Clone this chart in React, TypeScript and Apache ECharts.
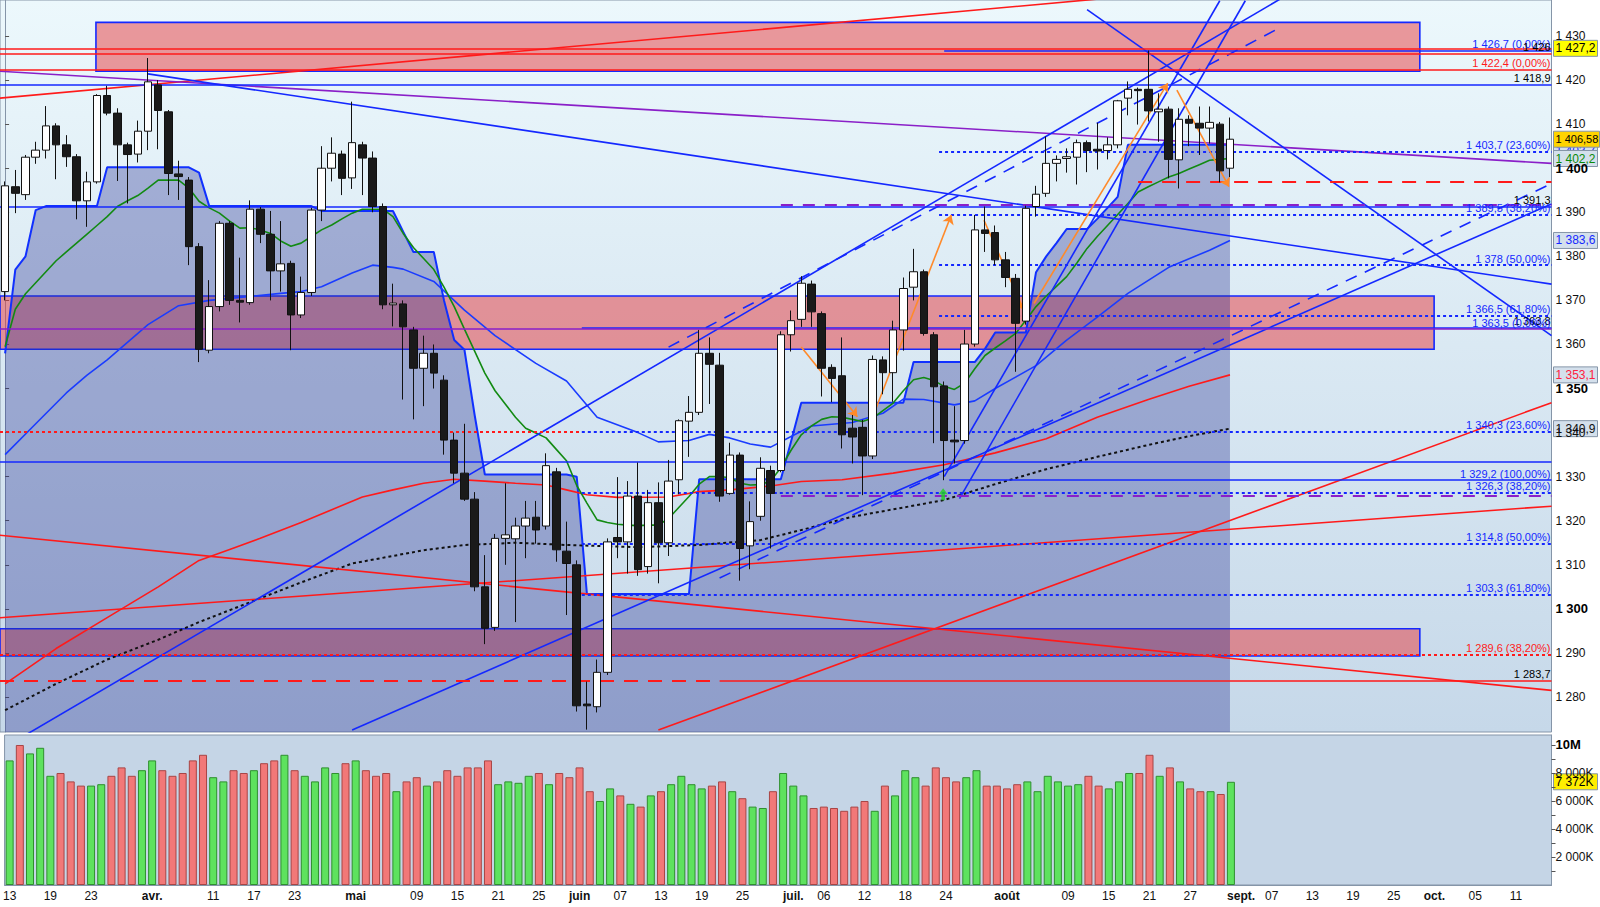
import { useEffect, useRef } from 'react';
import * as echarts from 'echarts';

// ---------- axis / categories ----------
const SLOTS = 152;
const X_MIN = -0.5;
const X_MAX = SLOTS - 0.5;
const PRICE_MIN = 1272.06;
const PRICE_MAX = 1438.17;
const VOL_MAX = 10714000;
const priceTicks = [1280, 1290, 1300, 1310, 1320, 1330, 1340, 1350, 1360, 1370, 1380, 1390, 1400, 1410, 1420, 1430];
const volTicks = [2000000, 4000000, 6000000, 8000000, 10000000];
const volMinorTicks = [1000000, 2000000, 3000000, 4000000, 5000000, 6000000, 7000000, 8000000, 9000000, 10000000];
const dateTickIdx = [0, 4, 8, 14, 20, 24, 28, 34, 40, 44, 48, 52, 56, 60, 64, 68, 72, 77, 80, 84, 88, 92, 98, 104, 108, 112, 116, 121, 124, 128, 132, 136, 140, 144, 148];
const dateTickLbl = ['13', '19', '23', 'avr.', '11', '17', '23', 'mai', '09', '15', '21', '25', 'juin', '07', '13', '19', '25', 'juil.', '06', '12', '18', '24', 'août', '09', '15', '21', '27', 'sept.', '07', '13', '19', '25', 'oct.', '05', '11'];
const monthLbl = ['avr.', 'mai', 'juin', 'juil.', 'août', 'sept.', 'oct.'];

// ---------- candles ----------
const opens = [
  1372.0, 1395.8, 1394.0, 1402.5, 1404.1, 1409.6, 1405.3, 1402.6, 1392.6, 1396.9,
  1416.5, 1412.5, 1405.3, 1403.2, 1408.4, 1418.9, 1412.8, 1398.7, 1397.3, 1382.2,
  1358.7, 1368.6, 1387.5, 1370.0, 1369.5, 1390.7, 1385.0, 1376.7, 1378.4, 1366.7,
  1371.8, 1390.5, 1400.0, 1403.2, 1397.8, 1405.3, 1402.3, 1391.3, 1369.0, 1369.2,
  1363.3, 1354.6, 1358.0, 1351.9, 1338.3, 1330.8, 1324.9, 1305.0, 1295.8, 1316.0,
  1315.9, 1318.8, 1320.8, 1318.8, 1331.1, 1313.1, 1310.0, 1278.4, 1277.8, 1285.6,
  1316.2, 1315.2, 1325.6, 1309.6, 1324.1, 1315.0, 1329.3, 1342.6, 1344.6, 1358.0,
  1355.3, 1326.2, 1334.9, 1314.3, 1321.0, 1331.4, 1331.4, 1362.2, 1365.7, 1373.7,
  1367.0, 1354.8, 1352.9, 1341.0, 1341.2, 1334.7, 1356.5, 1353.6, 1363.3, 1373.0,
  1376.5, 1362.2, 1350.6, 1338.3, 1338.2, 1360.1, 1386.0, 1385.4, 1379.2, 1375.0,
  1365.3, 1391.3, 1394.3, 1401.1, 1402.2, 1402.5, 1405.8, 1404.3, 1404.0, 1405.3,
  1415.9, 1417.9, 1417.9, 1412.8, 1413.4, 1401.9, 1411.1, 1410.2, 1409.1, 1410.0,
  1400.0,
];
const closes = [
  1396.0, 1394.3, 1402.5, 1404.1, 1409.6, 1405.3, 1402.6, 1392.6, 1396.9, 1416.5,
  1412.5, 1405.3, 1403.1, 1408.4, 1419.6, 1413.1, 1398.8, 1398.1, 1382.2, 1358.9,
  1368.6, 1387.5, 1370.0, 1369.6, 1390.7, 1385.0, 1376.7, 1378.3, 1366.7, 1371.8,
  1390.5, 1400.0, 1403.4, 1397.7, 1405.8, 1402.3, 1391.3, 1369.0, 1369.4, 1364.0,
  1354.6, 1358.0, 1353.5, 1338.3, 1330.8, 1324.9, 1305.0, 1295.6, 1316.0, 1316.8,
  1318.8, 1320.6, 1317.9, 1332.5, 1313.4, 1310.3, 1278.0, 1278.0, 1285.6, 1315.2,
  1315.2, 1325.6, 1308.9, 1324.1, 1315.0, 1329.0, 1342.7, 1344.6, 1358.0, 1355.5,
  1325.6, 1334.9, 1313.7, 1319.8, 1331.9, 1326.2, 1362.2, 1365.4, 1373.9, 1367.4,
  1354.6, 1352.3, 1339.5, 1339.0, 1334.7, 1356.6, 1353.6, 1363.3, 1372.7, 1376.5,
  1362.5, 1350.4, 1338.2, 1337.9, 1360.1, 1386.0, 1385.2, 1379.2, 1375.2, 1364.8,
  1390.9, 1394.1, 1401.1, 1402.0, 1402.6, 1405.8, 1404.0, 1403.9, 1405.3, 1415.3,
  1417.9, 1417.6, 1413.0, 1413.4, 1402.0, 1411.1, 1410.2, 1409.1, 1410.4, 1399.4,
  1406.58,
];
const lows = [
  1370.0, 1389.8, 1392.8, 1401.0, 1402.2, 1397.5, 1400.3, 1388.4, 1386.7, 1396.5,
  1412.0, 1397.1, 1392.0, 1401.3, 1404.1, 1404.3, 1393.9, 1392.8, 1378.0, 1356.0,
  1358.0, 1367.5, 1369.0, 1365.0, 1369.0, 1383.0, 1370.0, 1372.0, 1358.7, 1366.0,
  1371.0, 1388.0, 1397.0, 1393.9, 1395.3, 1393.9, 1390.0, 1368.0, 1364.1, 1347.5,
  1343.0, 1346.0, 1350.0, 1335.0, 1328.5, 1324.5, 1304.0, 1292.0, 1295.0, 1310.0,
  1297.0, 1311.5, 1314.8, 1318.0, 1310.7, 1298.6, 1276.7, 1272.6, 1276.5, 1285.0,
  1311.5, 1308.0, 1307.5, 1308.0, 1305.8, 1312.0, 1326.0, 1334.5, 1344.0, 1346.5,
  1324.3, 1325.9, 1306.4, 1309.0, 1320.0, 1313.7, 1331.0, 1358.4, 1364.0, 1364.0,
  1348.2, 1346.9, 1336.4, 1333.0, 1325.8, 1334.0, 1348.7, 1347.0, 1358.6, 1370.0,
  1362.0, 1337.6, 1329.2, 1333.0, 1337.5, 1359.5, 1381.0, 1378.0, 1373.0, 1353.8,
  1364.5, 1389.0, 1393.5, 1397.0, 1399.0, 1396.3, 1399.1, 1399.7, 1402.0, 1404.5,
  1412.0, 1409.9, 1410.6, 1406.0, 1397.7, 1395.4, 1405.0, 1403.0, 1405.6, 1396.8,
  1398.0,
];
const highs = [
  1397.0, 1399.6, 1403.0, 1406.0, 1414.1, 1410.2, 1407.5, 1403.2, 1399.2, 1416.8,
  1418.7, 1413.6, 1405.8, 1410.8, 1425.0, 1420.0, 1413.2, 1401.7, 1398.0, 1383.0,
  1374.6, 1388.0, 1388.0, 1379.7, 1392.7, 1391.2, 1390.3, 1388.0, 1379.0, 1375.4,
  1391.0, 1405.0, 1407.0, 1404.0, 1415.1, 1406.0, 1403.8, 1392.0, 1373.8, 1370.0,
  1364.0, 1362.0, 1360.0, 1353.0, 1340.0, 1342.0, 1326.5, 1312.2, 1317.0, 1328.5,
  1320.7, 1324.5, 1324.5, 1335.3, 1332.0, 1319.8, 1311.0, 1283.5, 1288.5, 1316.0,
  1329.9, 1329.0, 1333.2, 1327.0, 1328.7, 1333.8, 1343.0, 1348.3, 1363.3, 1361.6,
  1358.1, 1337.7, 1335.5, 1324.4, 1334.4, 1332.5, 1363.0, 1367.7, 1375.5, 1374.5,
  1367.5, 1355.5, 1361.6, 1344.0, 1342.9, 1357.5, 1357.3, 1365.4, 1375.2, 1381.7,
  1377.0, 1362.8, 1351.6, 1346.0, 1363.3, 1389.4, 1391.3, 1387.0, 1381.0, 1376.0,
  1391.5, 1396.0, 1407.2, 1402.9, 1404.5, 1406.5, 1406.3, 1410.3, 1407.0, 1415.5,
  1419.7, 1418.3, 1426.7, 1417.0, 1414.0, 1413.6, 1412.0, 1414.0, 1414.0, 1410.5,
  1411.5,
];
const volumes = [
  8900000, 10000000, 9400000, 9800000, 7800000, 8000000, 7400000, 7100000, 7100000, 7200000,
  7800000, 8400000, 7800000, 8200000, 8900000, 8200000, 7800000, 8000000, 8900000, 9300000,
  7700000, 7400000, 8200000, 8000000, 8200000, 8700000, 8900000, 9300000, 8200000, 7800000,
  7400000, 8400000, 8000000, 8700000, 8900000, 8200000, 7800000, 8000000, 6700000, 7400000,
  7700000, 7100000, 7400000, 8200000, 7800000, 8400000, 8400000, 8900000, 7200000, 7400000,
  7300000, 7800000, 8000000, 7200000, 8000000, 7700000, 8400000, 6700000, 6000000, 6900000,
  6400000, 5800000, 5600000, 6400000, 6700000, 7200000, 7800000, 7200000, 6900000, 7100000,
  7400000, 6700000, 6200000, 5600000, 5500000, 6700000, 8000000, 7100000, 6400000, 5500000,
  5600000, 5500000, 5300000, 5600000, 6000000, 5300000, 7100000, 6400000, 8200000, 7700000,
  7100000, 8400000, 7700000, 7400000, 7700000, 8200000, 7100000, 7100000, 6900000, 7200000,
  7400000, 6700000, 7800000, 7400000, 7100000, 7200000, 7800000, 7100000, 6900000, 7400000,
  8000000, 8000000, 9300000, 7800000, 8400000, 7400000, 6900000, 6700000, 6700000, 6500000,
  7372000,
];

// ---------- indicators ----------
const stopLine = [
  1358, 1377, 1380, 1390.5, 1391.4, 1391.4, 1391.4, 1391.4, 1391.4, 1391.4,
  1400.2, 1400.2, 1400.2, 1400.2, 1400.2, 1400.2, 1400.2, 1400.2, 1400.2, 1399,
  1391.4, 1391.4, 1391.4, 1391.4, 1391.4, 1391.4, 1391.4, 1391.4, 1391.4, 1391.4,
  1391.4, 1390.3, 1390.3, 1390.3, 1390.3, 1390.3, 1390.3, 1390.3, 1390.3, 1385.6,
  1381, 1381, 1381, 1370, 1361, 1358.8, 1344, 1330.5, 1330.5, 1330.5,
  1330.5, 1330.5, 1330.5, 1330.5, 1330.5, 1330.5, 1330, 1303.4, 1303.4, 1303.4,
  1303.4, 1303.4, 1303.4, 1303.4, 1303.4, 1303.4, 1303.4, 1303.4, 1329.4, 1329.4,
  1329.4, 1329.4, 1329.4, 1329.4, 1329.4, 1329.4, 1329.4, 1338, 1346.8, 1346.8,
  1346.8, 1346.8, 1346.8, 1346.8, 1346.8, 1346.8, 1346.8, 1346.8, 1346.8, 1356,
  1356, 1356, 1356, 1356, 1356, 1356, 1359, 1362.7, 1362.7, 1362.7,
  1362.7, 1376.4, 1380, 1383, 1386.2, 1386.2, 1386.2, 1388.5, 1391, 1393.5,
  1405.3, 1405.3, 1405.3, 1405.3, 1405.3, 1405.3, 1405.3, 1405.3, 1405.3, 1405.3,
  1405.3,
];
const maGreen = [
  1359.5, 1368, 1371.5, 1374, 1376.5, 1379, 1381, 1383, 1385, 1387,
  1389, 1391.3, 1392.6, 1393.8, 1395.5, 1397.3, 1397.3, 1397.3, 1395.5, 1392.5,
  1391, 1389.8, 1388, 1386.4, 1386.5, 1386, 1385.2, 1383.5, 1382.3, 1383,
  1384.5, 1386, 1387.1, 1388.5, 1389.8, 1390.7, 1390.7, 1390.7, 1389, 1385.2,
  1382, 1379.5, 1377, 1373, 1368.6, 1363.5, 1358.5, 1353.5, 1349.5, 1346.5,
  1343.5, 1341, 1339.9, 1338.8, 1336.2, 1333.6, 1328, 1324, 1320.2, 1319.6,
  1319.2, 1319, 1318.9, 1319, 1319, 1320.5, 1323, 1325.5, 1328.3, 1330,
  1330, 1329.8, 1328.5, 1328.1, 1328.2, 1329, 1332, 1336, 1339.5, 1341.5,
  1343, 1343.6, 1343.5, 1343, 1342.5, 1343.3, 1345, 1346.7, 1349.5, 1352,
  1352.5, 1351.8, 1350.5, 1349.8, 1351.2, 1354.5, 1357.5, 1359.2, 1360.8, 1362.5,
  1365.5, 1368.6, 1371, 1373.2, 1375.4, 1378.5, 1381.8, 1384.5, 1387, 1389.5,
  1392, 1394.6, 1395.8, 1396.9, 1398, 1398.8, 1399.8, 1400.8, 1401.8, 1402,
  1402.2,
];
const maBlue = [
  [0, 1335], [3, 1342], [6, 1349], [8, 1353], [10, 1356.5], [14, 1364.5], [17, 1368.8], [20, 1370],
  [24, 1370.9], [27, 1371.6], [29, 1372], [31, 1373.1], [34, 1376.2], [36, 1378], [38, 1377.5],
  [39, 1377.1], [42, 1374.3], [45, 1367.8], [48, 1362], [52, 1355.7], [55, 1351.7], [58, 1343.5],
  [62, 1340], [64, 1337.9], [67, 1338.2], [69, 1339.6], [71, 1338.8], [73, 1337.4], [75, 1336.7],
  [77, 1339.1], [79, 1341.5], [83, 1342.3], [86, 1344.4], [88, 1347.6], [90, 1347.5], [93, 1346.3],
  [95, 1347.2], [97, 1350], [99, 1352.6], [101, 1355.2], [104, 1361], [107, 1366.2], [110, 1371.6],
  [114, 1377.5], [118, 1381.4], [120, 1383.6],
];
const maRed = [
  [0, 1283], [5, 1291], [10, 1298], [15, 1305], [19, 1311], [22, 1313.5], [25, 1316], [29, 1319.6],
  [32, 1322.5], [35, 1325.4], [38, 1327], [41, 1328.5], [44, 1329.4], [47, 1329], [50, 1328.5],
  [53, 1328.1], [55, 1327], [57, 1325.9], [60, 1325.3], [65, 1325.4], [68, 1326.6], [71, 1327],
  [75, 1327.9], [78, 1328.9], [82, 1329.3], [87, 1330.8], [92, 1332.7], [97, 1335.4], [102, 1338.6],
  [107, 1343.5], [112, 1347.5], [116, 1350.5], [120, 1353.1],
];
const maBlack = [
  [0, 1277], [5, 1283], [10, 1288.5], [15, 1293], [19, 1297], [24, 1301.5], [29, 1306], [34, 1310.3],
  [41, 1313.3], [45, 1314.5], [50, 1315], [55, 1314.5], [62, 1314], [68, 1314.5], [74, 1315.6],
  [78, 1317.9], [83, 1320.9], [88, 1323], [92, 1324.7], [97, 1328.3], [102, 1331.7], [107, 1334.5],
  [112, 1337.2], [116, 1339.2], [120, 1340.9],
];

// ---------- drawn objects (x in bar index, y in price) ----------
const blueTrends = [
  [-1, 1267.3, 125, 1438.5],
  [34, 1272.5, 151.5, 1391.9],
  [92, 1330, 119, 1438],
  [93.5, 1325, 121.5, 1438],
  [14, 1421.4, 151.5, 1373.7],
  [106, 1436, 151.5, 1362],
];
const blueDashTrends = [
  [65, 1359.4, 125, 1432],
  [70, 1307, 151.5, 1396.5],
];
const redTrends = [
  [-0.5, 1415.9, 110, 1439],
  [-0.5, 1316.7, 151.5, 1281.5],
  [-0.5, 1298, 151.5, 1323.3],
  [64, 1272.5, 151.5, 1346.8],
];
const purpleTrends = [[-0.5, 1422, 151.5, 1401.1]];

// levels: [price, fromIndex, toIndex, label]
const lvBlueDotted: [number, number, number, string][] = [
  [1403.7, 91.5, X_MAX, '1 403,7 (23,60%)'],
  [1389.5, 91.5, X_MAX, '1 389,5 (38,20%)'],
  [1378.0, 91.5, X_MAX, '1 378 (50,00%)'],
  [1366.5, 91.5, X_MAX, '1 366,5 (61,80%)'],
  [1340.3, 56.5, X_MAX, '1 340,3 (23,60%)'],
  [1326.3, 56.5, X_MAX, '1 326,3 (38,20%)'],
  [1314.8, 56.5, X_MAX, '1 314,8 (50,00%)'],
  [1303.3, 56.5, X_MAX, '1 303,3 (61,80%)'],
];
const lvBlueFib: [number, number, number, string][] = [
  [1426.7, 92, X_MAX, '1 426,7 (0,00%)'],
  [1329.2, 92.5, X_MAX, '1 329,2 (100,00%)'],
];
const lvBlueMarked: [number, number, number, string][] = [
  [1418.9, X_MIN, X_MAX, '1 418,9'],
  [1391.3, X_MIN, X_MAX, '1 391,3'],
  [1333.3, X_MIN, X_MAX, ''],
  [1363.8, 56.5, X_MAX, '1 363,8'],
];
const lvPurple: [number, number, number, string][] = [[1363.5, X_MIN, X_MAX, '1 363,5 (0,00%)']];
const lvPurpleDashed: [number, number, number, string][] = [
  [1391.6, 76, X_MAX, ''],
  [1325.6, 76, X_MAX, ''],
];
const lvRed: [number, number, number, string][] = [
  [1422.4, X_MIN, X_MAX, '1 422,4 (0,00%)'],
  [1427.2, X_MIN, X_MAX, ''],
];
const lvRedMarked: [number, number, number, string][] = [
  [1426.0, X_MIN, X_MAX, '1 426'],
  [1283.7, 70, X_MAX, '1 283,7'],
];
const lvRedDotted: [number, number, number, string][] = [
  [1340.3, X_MIN, 56.5, ''],
  [1289.6, X_MIN, X_MAX, '1 289,6 (38,20%)'],
];
const lvRedDashed: [number, number, number, string][] = [
  [1283.7, X_MIN, 70, ''],
  [1397.0, 111, X_MAX, ''],
];

// zones: [fromIndex, toIndex, lowPrice, highPrice]
const zones = [
  [8.9, 138.6, 1422.0, 1433.1],
  [X_MIN, 140.0, 1358.9, 1371.0],
  [X_MIN, 138.6, 1289.3, 1295.5],
];

const arrows = [
  [78, 1359.4, 83.5, 1343.6],
  [85, 1343.6, 92.7, 1389.4],
  [95.9, 1388.2, 99.8, 1367.8],
  [100.8, 1369.3, 113.9, 1419.3],
  [114.8, 1417.7, 119.9, 1395.8],
];
const waveLabels = ['9', '6', '5', '7', '8', '2', '4', '3'];
const waveX = [59.8, 77.9, 67.9, 101.8, 108.9, 98.8, 93.6, 71.8];
const waveY = [1387.7, 1379.4, 1370.5, 1411.6, 1419.6, 1350.0, 1329.3, 1305.2];
const signalUp = [[91.9, 1326.0]];

// value boxes on the right axis: [price, text]
const boxYellow: [number, string][] = [[1427.2, '1 427,2']];
const boxGold: [number, string][] = [[1406.58, '1 406,58']];
const boxBlue: [number, string][] = [[1404.0, '1 403,7'], [1383.6, '1 383,6']];
const boxGreen: [number, string][] = [[1402.2, '1 402,2']];
const boxRed: [number, string][] = [[1353.1, '1 353,1']];
const boxBlack: [number, string][] = [[1340.9, '1 340,9']];
const volBox: [number, string][] = [[7372000, '7 372K']];

// ---------- helpers ----------
const FONT = '"Liberation Sans", Arial, sans-serif';
const NARROW = '"Liberation Sans Narrow", "Liberation Sans", Arial, sans-serif';
const BLUE = '#1428ff';
const RED = '#ff1a1a';
const PURPLE = '#8a1fc8';

function fmtNum(v: number, dec: number) {
  const s = v.toFixed(dec);
  const [ip, dp] = s.split('.');
  const w = ip.replace(/\B(?=(\d{3})+(?!\d))/g, ' ');
  return dp ? w + ',' + dp : w;
}

function levelSeries(levels: [number, number, number, string][], color: string, type: any, width: number, labelColor: string, z: number) {
  return {
    type: 'line', xAxisIndex: 1, yAxisIndex: 0, data: [], z, silent: true,
    markLine: {
      silent: true, symbol: ['none', 'none'], animation: false,
      lineStyle: { color, type, width },
      label: { show: true, position: 'insideEndTop', formatter: '{b}', color: labelColor, fontSize: 11, fontFamily: FONT, distance: 1 },
      data: levels.map((l) => [{ name: l[3], coord: [l[1], l[0]] }, { coord: [l[2], l[0]] }]),
    },
  };
}

function trendSeries(lines: number[][], color: string, type: any, width: number, z: number) {
  return lines.map((l) => ({
    type: 'line', xAxisIndex: 1, yAxisIndex: 0, symbol: 'none', silent: true, z,
    data: [[l[0], l[1]], [l[2], l[3]]],
    lineStyle: { color, type, width },
  }));
}

export default function App() {
  const ref = useRef<HTMLDivElement>(null);
  useEffect(() => {
    document.body.style.margin = '0';
    const chart = echarts.init(ref.current!, null, { renderer: 'svg' });
    const cats = Array.from({ length: SLOTS }, (_, k) => String(k));
    const tickSet = new Set(dateTickIdx);
    const labelOf = (k: number) => {
      const j = dateTickIdx.indexOf(k);
      return j >= 0 ? dateTickLbl[j] : '';
    };
    const candleData = opens.map((o, i) => [o, closes[i], lows[i], highs[i]]);
    const volData = volumes.map((v, i) => {
      const up = closes[i] >= opens[i];
      return { value: v, itemStyle: { color: up ? '#5ee25e' : '#f27878', borderColor: up ? '#2f8f2f' : '#a84545' } };
    });

    const option: any = {
      animation: false,
      grid: [
        {
          left: -2, right: 48.5, top: 0, height: 732, show: true,
          backgroundColor: { type: 'linear', x: 0, y: 0, x2: 0, y2: 1, colorStops: [{ offset: 0, color: '#ecf8fc' }, { offset: 1, color: '#c6d8e9' }] },
          borderColor: '#8595a8', borderWidth: 1,
        },
        { left: -2, right: 48.5, top: 735, height: 150, show: true, backgroundColor: '#c5d5e6', borderColor: '#8595a8', borderWidth: 1 },
      ],
      xAxis: [
        { type: 'category', gridIndex: 0, data: cats, boundaryGap: true, axisLine: { show: false }, axisTick: { show: false }, axisLabel: { show: false }, splitLine: { show: false } },
        { type: 'value', gridIndex: 0, min: X_MIN, max: X_MAX, show: false },
        {
          type: 'category', gridIndex: 1, data: cats, boundaryGap: true,
          axisLine: { lineStyle: { color: '#8595a8' } },
          axisTick: { interval: (idx: number) => tickSet.has(idx), alignWithLabel: true, length: 4, lineStyle: { color: '#666' } },
          axisLabel: {
            interval: 0, margin: 5, color: '#111', fontSize: 12, fontFamily: NARROW,
            formatter: (_v: string, idx: number) => {
              const s = labelOf(idx);
              if (!s) return '';
              return monthLbl.includes(s) ? `{b|${s}}` : s;
            },
            rich: { b: { fontWeight: 'bold', fontSize: 12, fontFamily: NARROW, color: '#111' } },
          },
        },
      ],
      yAxis: [
        {
          type: 'value', gridIndex: 0, position: 'right', min: PRICE_MIN, max: PRICE_MAX,
          splitLine: { show: false },
          axisLine: { show: true, lineStyle: { color: '#8595a8' } },
          axisTick: { show: true, length: 4, customValues: priceTicks, lineStyle: { color: '#555' } },
          axisLabel: {
            customValues: priceTicks, margin: 4, color: '#111', fontSize: 12, fontFamily: FONT,
            formatter: (v: number) => (v % 50 === 0 ? `{b|${fmtNum(v, 0)}}` : fmtNum(v, 0)),
            rich: { b: { fontWeight: 'bold', fontSize: 13, fontFamily: FONT, color: '#000' } },
          },
        },
        {
          type: 'value', gridIndex: 1, position: 'right', min: 0, max: VOL_MAX,
          splitLine: { show: false },
          axisLine: { show: true, lineStyle: { color: '#8595a8' } },
          axisTick: { show: true, length: 4, customValues: volMinorTicks, lineStyle: { color: '#555' } },
          axisLabel: {
            customValues: volTicks, margin: 4, color: '#111', fontSize: 12, fontFamily: FONT,
            formatter: (v: number) => (v >= 10000000 ? '{b|10M}' : fmtNum(v / 1000, 0) + 'K'),
            rich: { b: { fontWeight: 'bold', fontSize: 13, fontFamily: FONT, color: '#000' } },
          },
        },
      ],
      series: [
        {
          type: 'line', xAxisIndex: 0, yAxisIndex: 0, data: stopLine, symbol: 'none', z: 1, silent: true,
          lineStyle: { color: '#1030ff', width: 2 },
          areaStyle: { color: 'rgba(40,50,145,0.5)', origin: 'start' },
        },
        {
          type: 'line', xAxisIndex: 1, yAxisIndex: 0, data: [], z: 2, silent: true,
          markArea: {
            silent: true,
            itemStyle: { color: 'rgba(230,55,60,0.5)', borderColor: BLUE, borderWidth: 1.6 },
            data: zones.map((zn) => [{ coord: [zn[0], zn[3]] }, { coord: [zn[1], zn[2]] }]),
          },
        },
        levelSeries(lvRedDotted, RED, [3, 3], 2, RED, 3),
        levelSeries(lvBlueDotted, BLUE, [3, 3], 2, BLUE, 3),
        levelSeries(lvBlueFib, BLUE, 'solid', 1.5, BLUE, 3),
        levelSeries(lvBlueMarked, BLUE, 'solid', 1.6, '#000', 3),
        levelSeries(lvPurple, PURPLE, 'solid', 1.6, BLUE, 3),
        levelSeries(lvPurpleDashed, PURPLE, [12, 10], 2, PURPLE, 3),
        levelSeries(lvRed, RED, 'solid', 1.5, RED, 3),
        levelSeries(lvRedMarked, RED, 'solid', 1.5, '#000', 3),
        levelSeries(lvRedDashed, RED, [14, 10], 2, RED, 3),
        { type: 'line', xAxisIndex: 1, yAxisIndex: 0, data: maBlack, symbol: 'none', z: 3, silent: true, lineStyle: { color: '#111', type: [3, 3], width: 2 } },
        { type: 'line', xAxisIndex: 1, yAxisIndex: 0, data: maRed, symbol: 'none', z: 3, silent: true, lineStyle: { color: RED, width: 1.6 } },
        { type: 'line', xAxisIndex: 1, yAxisIndex: 0, data: maBlue, symbol: 'none', z: 3, silent: true, lineStyle: { color: '#1a3cff', width: 1.6 } },
        { type: 'line', xAxisIndex: 0, yAxisIndex: 0, data: maGreen, symbol: 'none', z: 3, silent: true, lineStyle: { color: '#128a12', width: 1.6 } },
        ...trendSeries(redTrends, RED, 'solid', 1.6, 4),
        ...trendSeries(purpleTrends, PURPLE, 'solid', 1.6, 4),
        ...trendSeries(blueTrends, BLUE, 'solid', 1.6, 4),
        ...trendSeries(blueDashTrends, BLUE, [12, 9], 1.6, 4),
        {
          type: 'candlestick', xAxisIndex: 0, yAxisIndex: 0, data: candleData, barWidth: 8, z: 5, silent: true,
          itemStyle: { color: '#ffffff', color0: '#1a1a1a', borderColor: '#111', borderColor0: '#111', borderWidth: 1 },
        },
        {
          type: 'line', xAxisIndex: 1, yAxisIndex: 0, data: [], z: 6, silent: true,
          markLine: {
            silent: true, symbol: ['none', 'arrow'], symbolSize: 9,
            lineStyle: { color: '#ff8a2a', type: 'solid', width: 1.6 },
            label: { show: false },
            data: arrows.map((a) => [{ coord: [a[0], a[1]] }, { coord: [a[2], a[3]] }]),
          },
        },
        {
          type: 'scatter', xAxisIndex: 1, yAxisIndex: 0, z: 7, silent: true, symbolSize: 1,
          itemStyle: { opacity: 0 },
          label: { show: true, position: 'inside', formatter: '{b}', color: '#ff1010', fontSize: 16, fontFamily: FONT },
          data: waveLabels.map((t, k) => ({ name: t, value: [waveX[k], waveY[k]] })),
        },
        {
          type: 'scatter', xAxisIndex: 1, yAxisIndex: 0, z: 7, silent: true,
          symbol: 'path://M5,0 L10,6 L7,6 L7,12 L3,12 L3,6 L0,6 Z', symbolSize: [9, 12],
          itemStyle: { color: '#1fd01f' },
          data: signalUp,
        },
        {
          type: 'bar', xAxisIndex: 2, yAxisIndex: 1, data: volData, barWidth: 8, silent: true,
          itemStyle: { borderWidth: 1 },
        },
      ],
    };
    chart.setOption(option);

    const mkBox = (list: [number, string][], axis: number, fill: string, color: string, w: number, fs: number) =>
      list.map(([v, t]) => {
        const y = chart.convertToPixel({ yAxisIndex: axis } as any, v) as number;
        return {
          type: 'group', z: 100,
          children: [
            { type: 'rect', shape: { x: 1553.5, y: y - 8, width: w, height: 16 }, style: { fill, stroke: '#8595a8', lineWidth: 1 } },
            { type: 'text', x: 1555.5, y, style: { text: t, fill: color, font: `${fs}px ${FONT}`, verticalAlign: 'middle' } },
          ],
        };
      });
    chart.setOption({
      graphic: [
        ...mkBox(boxBlue, 0, '#d4e0ec', BLUE, 44, 12),
        ...mkBox(boxGreen, 0, '#d4e0ec', '#0a8a0a', 44, 12),
        ...mkBox(boxRed, 0, '#d4e0ec', '#ff2040', 44, 12),
        ...mkBox(boxBlack, 0, '#d4e0ec', '#111', 44, 12),
        ...mkBox(boxYellow, 0, '#ffff00', '#000', 44, 12),
        ...mkBox(boxGold, 0, '#ffd400', '#000', 46, 11),
        ...mkBox(volBox, 1, '#ffee00', '#000', 44, 12),
      ],
    });
    return () => chart.dispose();
  }, []);
  return <div ref={ref} style={{ position: 'absolute', left: 0, top: 0, width: 1600, height: 907 }} />;
}
